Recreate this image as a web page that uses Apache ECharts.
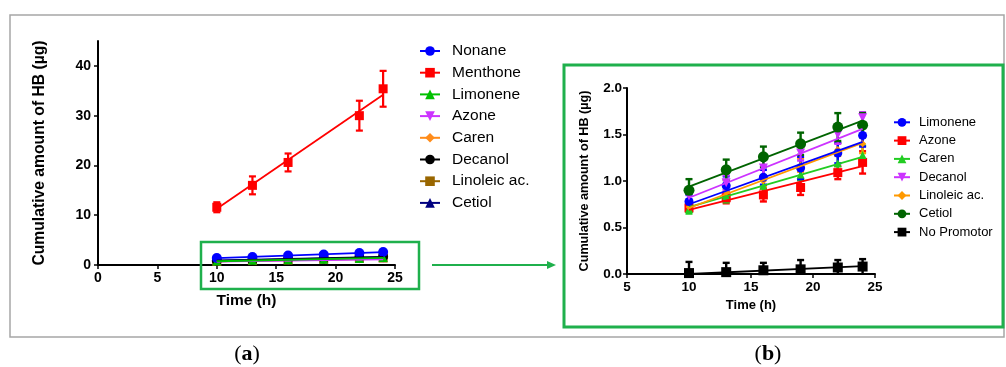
<!DOCTYPE html>
<html>
<head>
<meta charset="utf-8">
<title>Cumulative amount of HB</title>
<script src="https://cdn.jsdelivr.net/npm/echarts@6/dist/echarts.min.js"></script>
<style>
html, body { margin: 0; padding: 0; background: #fff; }
#chart { width: 1006px; height: 367px; }
</style>
</head>
<body>
<div id="chart"></div>
<script>
// sampling times (h)
const hours = [10, 13, 16, 19, 22, 24];
const menthoneHours = [10, 13, 16, 22, 24];
const fitHours = [10, 24];

// mean amount of HB (µg), SD and regression line ends
const nonane = [1.4, 1.6, 1.9, 2.1, 2.4, 2.6];
const nonaneSd = [0.15, 0.15, 0.2, 0.2, 0.2, 0.2];
const nonaneFit = [1.4, 2.6];

const menthone = [11.6, 16.0, 20.6, 30.0, 35.4];
const menthoneSd = [1.0, 1.8, 1.8, 3.0, 3.6];
const menthoneFit = [11.3, 34.2];

const limonene = [0.78, 0.95, 1.04, 1.14, 1.30, 1.49];
const limoneneSd = [0.07, 0.10, 0.08, 0.12, 0.11, 0.12];
const limoneneFit = [0.75, 1.42];

const azone = [0.71, 0.82, 0.85, 0.93, 1.09, 1.20];
const azoneSd = [0.04, 0.06, 0.07, 0.08, 0.07, 0.12];
const azoneFit = [0.69, 1.16];

const caren = [0.70, 0.84, 0.95, 1.07, 1.19, 1.28];
const carenSd = [0.05, 0.07, 0.10, 0.06, 0.10, 0.10];
const carenFit = [0.72, 1.26];

const decanol = [0.84, 0.98, 1.14, 1.30, 1.50, 1.68];
const decanolSd = [0.06, 0.08, 0.10, 0.08, 0.10, 0.06];
const decanolFit = [0.82, 1.56];

const linoleic = [0.72, 0.88, 1.00, 1.17, 1.34, 1.40];
const linoleicSd = [0.05, 0.07, 0.06, 0.07, 0.07, 0.10];
const linoleicFit = [0.71, 1.41];

const cetiol = [0.90, 1.12, 1.26, 1.40, 1.58, 1.60];
const cetiolSd = [0.12, 0.11, 0.11, 0.12, 0.15, 0.13];
const cetiolFit = [0.94, 1.65];

const noPromotor = [0.01, 0.02, 0.04, 0.05, 0.07, 0.08];
const noPromotorSd = [0.12, 0.10, 0.08, 0.10, 0.08, 0.08];
const noPromotorFit = [0.0, 0.085];

const leftYTicks = [0, 10, 20, 30, 40];

const FONT = '"Liberation Sans", Arial, sans-serif';
const SERIF = '"Liberation Serif", serif';
const GREEN_BOX = '#1fb04c';

function zip(xs, ys, es) {
  return xs.map((x, i) => es ? [x, ys[i], es[i]] : [x, ys[i]]);
}

function errorBars(capW, lw) {
  return function (params, api) {
    const x = api.value(0), y = api.value(1), e = api.value(2);
    const lowV = Math.max(y - e, 0);
    const top = api.coord([x, y + e]);
    const bot = api.coord([x, lowV]);
    const style = { stroke: api.visual('color'), lineWidth: lw };
    const children = [
      { type: 'line', shape: { x1: top[0], y1: top[1], x2: bot[0], y2: bot[1] }, style },
      { type: 'line', shape: { x1: top[0] - capW, y1: top[1], x2: top[0] + capW, y2: top[1] }, style }
    ];
    if (lowV > 0) {
      children.push({ type: 'line', shape: { x1: bot[0] - capW, y1: bot[1], x2: bot[0] + capW, y2: bot[1] }, style });
    }
    return { type: 'group', children };
  };
}

const series = [];

// one compound = regression line (named, for the legend) + error bars + markers
function addCompound(panel, name, color, symbol, rotate, size, xs, ys, sd, fit) {
  const axis = { xAxisIndex: panel, yAxisIndex: panel };
  series.push(Object.assign({
    name: name,
    type: 'line',
    data: zip(fitHours, fit),
    symbol: symbol,
    symbolRotate: rotate,
    showSymbol: false,
    lineStyle: { color: color, width: 1.8 },
    itemStyle: { color: color },
    silent: true
  }, axis));
  series.push(Object.assign({
    name: name + ' sd',
    type: 'custom',
    data: zip(xs, ys, sd),
    encode: { x: 0, y: 1 },
    itemStyle: { color: color },
    renderItem: errorBars(3.5, panel === 0 ? 2.2 : 2.4),
    silent: true
  }, axis));
  series.push(Object.assign({
    name: name + ' pts',
    type: 'scatter',
    data: zip(xs, ys),
    symbol: symbol,
    symbolRotate: rotate,
    symbolSize: size,
    itemStyle: { color: color, opacity: 1 },
    silent: true
  }, axis));
}

// panel (a)
addCompound(0, 'Cetiol', '#000080', 'triangle', 0, 9, hours, cetiol, cetiolSd, cetiolFit);
addCompound(0, 'Linoleic ac.', '#996600', 'rect', 0, 9, hours, linoleic, linoleicSd, linoleicFit);
addCompound(0, 'Caren', '#ff8c1a', 'diamond', 0, 7, hours, caren, carenSd, carenFit);
addCompound(0, 'Azone', '#cc33ff', 'triangle', 180, 8, hours, azone, azoneSd, azoneFit);
addCompound(0, 'Decanol', '#000000', 'circle', 0, 10, hours, decanol, decanolSd, decanolFit);
addCompound(0, 'Limonene', '#00c000', 'triangle', 0, 9, hours, limonene, limoneneSd, limoneneFit);
addCompound(0, 'Menthone', '#ff0000', 'rect', 0, 9, menthoneHours, menthone, menthoneSd, menthoneFit);
addCompound(0, 'Nonane', '#0000ff', 'circle', 0, 10, hours, nonane, nonaneSd, nonaneFit);

// panel (b)
addCompound(1, 'b:No Promotor', '#000000', 'rect', 0, 10, hours, noPromotor, noPromotorSd, noPromotorFit);
addCompound(1, 'b:Azone', '#ff0000', 'rect', 0, 9, hours, azone, azoneSd, azoneFit);
addCompound(1, 'b:Caren', '#22cc22', 'triangle', 0, 8, hours, caren, carenSd, carenFit);
addCompound(1, 'b:Linoleic ac.', '#ff9900', 'diamond', 0, 7, hours, linoleic, linoleicSd, linoleicFit);
addCompound(1, 'b:Limonene', '#0000ff', 'circle', 0, 9, hours, limonene, limoneneSd, limoneneFit);
addCompound(1, 'b:Decanol', '#cc33ff', 'triangle', 180, 9, hours, decanol, decanolSd, decanolFit);
addCompound(1, 'b:Cetiol', '#006400', 'circle', 0, 11, hours, cetiol, cetiolSd, cetiolFit);

const leftLegend = ['Nonane', 'Menthone', 'Limonene', 'Azone', 'Caren', 'Decanol', 'Linoleic ac.', 'Cetiol'];
const rightLegend = ['b:Limonene', 'b:Azone', 'b:Caren', 'b:Decanol', 'b:Linoleic ac.', 'b:Cetiol', 'b:No Promotor'];

function axisBase(fontSize) {
  return {
    axisLine: { onZero: false, lineStyle: { color: '#000', width: 2 } },
    axisTick: { show: true, length: 4, lineStyle: { color: '#000', width: 1.5 } },
    axisLabel: { color: '#000', fontFamily: FONT, fontWeight: 'bold', fontSize: fontSize },
    splitLine: { show: false },
    nameLocation: 'middle',
    nameTextStyle: { color: '#000', fontFamily: FONT, fontWeight: 'bold' }
  };
}

const xa = axisBase(14), ya = axisBase(14), xb = axisBase(13.5), yb = axisBase(13.5);

const option = {
  animation: false,
  backgroundColor: '#fff',
  grid: [
    { left: 98, top: 41, width: 297, height: 224 },
    { left: 627, top: 88, width: 248, height: 186 }
  ],
  xAxis: [
    Object.assign(xa, {
      gridIndex: 0, type: 'value', min: 0, max: 25, interval: 5,
      name: 'Time (h)', nameGap: 28,
      nameTextStyle: Object.assign(xa.nameTextStyle, { fontSize: 15.5 }),
      axisLabel: Object.assign(xa.axisLabel, { margin: 6 })
    }),
    Object.assign(xb, {
      gridIndex: 1, type: 'value', min: 5, max: 25, interval: 5,
      name: 'Time (h)', nameGap: 24,
      nameTextStyle: Object.assign(xb.nameTextStyle, { fontSize: 13 }),
      axisLabel: Object.assign(xb.axisLabel, { margin: 6 })
    })
  ],
  yAxis: [
    Object.assign(ya, {
      gridIndex: 0, type: 'value', min: 0, max: 45, interval: 10,
      name: 'Cumulative amount of HB (µg)', nameGap: 50,
      nameTextStyle: Object.assign(ya.nameTextStyle, { fontSize: 15.7 }),
      axisTick: Object.assign(ya.axisTick, { customValues: leftYTicks }),
      axisLabel: Object.assign(ya.axisLabel, { margin: 7, customValues: leftYTicks })
    }),
    Object.assign(yb, {
      gridIndex: 1, type: 'value', min: 0, max: 2, interval: 0.5,
      name: 'Cumulative amount of HB (µg)', nameGap: 36,
      nameTextStyle: Object.assign(yb.nameTextStyle, { fontSize: 12.6 }),
      axisLabel: Object.assign(yb.axisLabel, { margin: 5, formatter: v => v.toFixed(1) })
    })
  ],
  legend: [
    {
      orient: 'vertical', left: 419, top: 43, padding: 0,
      itemWidth: 20, itemHeight: 12, itemGap: 5.7,
      selectedMode: false,
      textStyle: { fontFamily: FONT, fontSize: 15.5, color: '#000', lineHeight: 16, padding: [0, 0, 0, 7] },
      data: leftLegend
    },
    {
      orient: 'vertical', left: 893, top: 115.8, padding: 0,
      itemWidth: 16, itemHeight: 11, itemGap: 5.3,
      selectedMode: false,
      formatter: n => n.replace('b:', ''),
      textStyle: { fontFamily: FONT, fontSize: 13, color: '#000', lineHeight: 13, padding: [0, 0, 0, 4] },
      data: rightLegend
    }
  ],
  graphic: [
    { type: 'rect', shape: { x: 10, y: 15, width: 994, height: 322 },
      style: { fill: 'none', stroke: '#a6a6a6', lineWidth: 1.5 }, z: 0 },
    { type: 'rect', shape: { x: 201, y: 242, width: 218, height: 47 },
      style: { fill: 'none', stroke: GREEN_BOX, lineWidth: 2.5 }, z: 100 },
    { type: 'line', shape: { x1: 432, y1: 265, x2: 549, y2: 265 },
      style: { stroke: GREEN_BOX, lineWidth: 2 }, z: 100 },
    { type: 'polygon', shape: { points: [[556, 265], [547, 261], [547, 269]] },
      style: { fill: GREEN_BOX }, z: 100 },
    { type: 'rect', shape: { x: 564, y: 65, width: 439, height: 262 },
      style: { fill: 'none', stroke: GREEN_BOX, lineWidth: 3 }, z: 100 },
    { type: 'text', x: 247, y: 354,
      style: { text: '({b|a})', fontFamily: SERIF, fontSize: 22, fill: '#000',
        align: 'center', verticalAlign: 'middle',
        rich: { b: { fontWeight: 'bold', fontFamily: SERIF, fontSize: 22 } } } },
    { type: 'text', x: 768, y: 354,
      style: { text: '({b|b})', fontFamily: SERIF, fontSize: 22, fill: '#000',
        align: 'center', verticalAlign: 'middle',
        rich: { b: { fontWeight: 'bold', fontFamily: SERIF, fontSize: 22 } } } }
  ],
  series: series
};

const chart = echarts.init(document.getElementById('chart'), null, { renderer: 'canvas' });
chart.setOption(option);
</script>
</body>
</html>
